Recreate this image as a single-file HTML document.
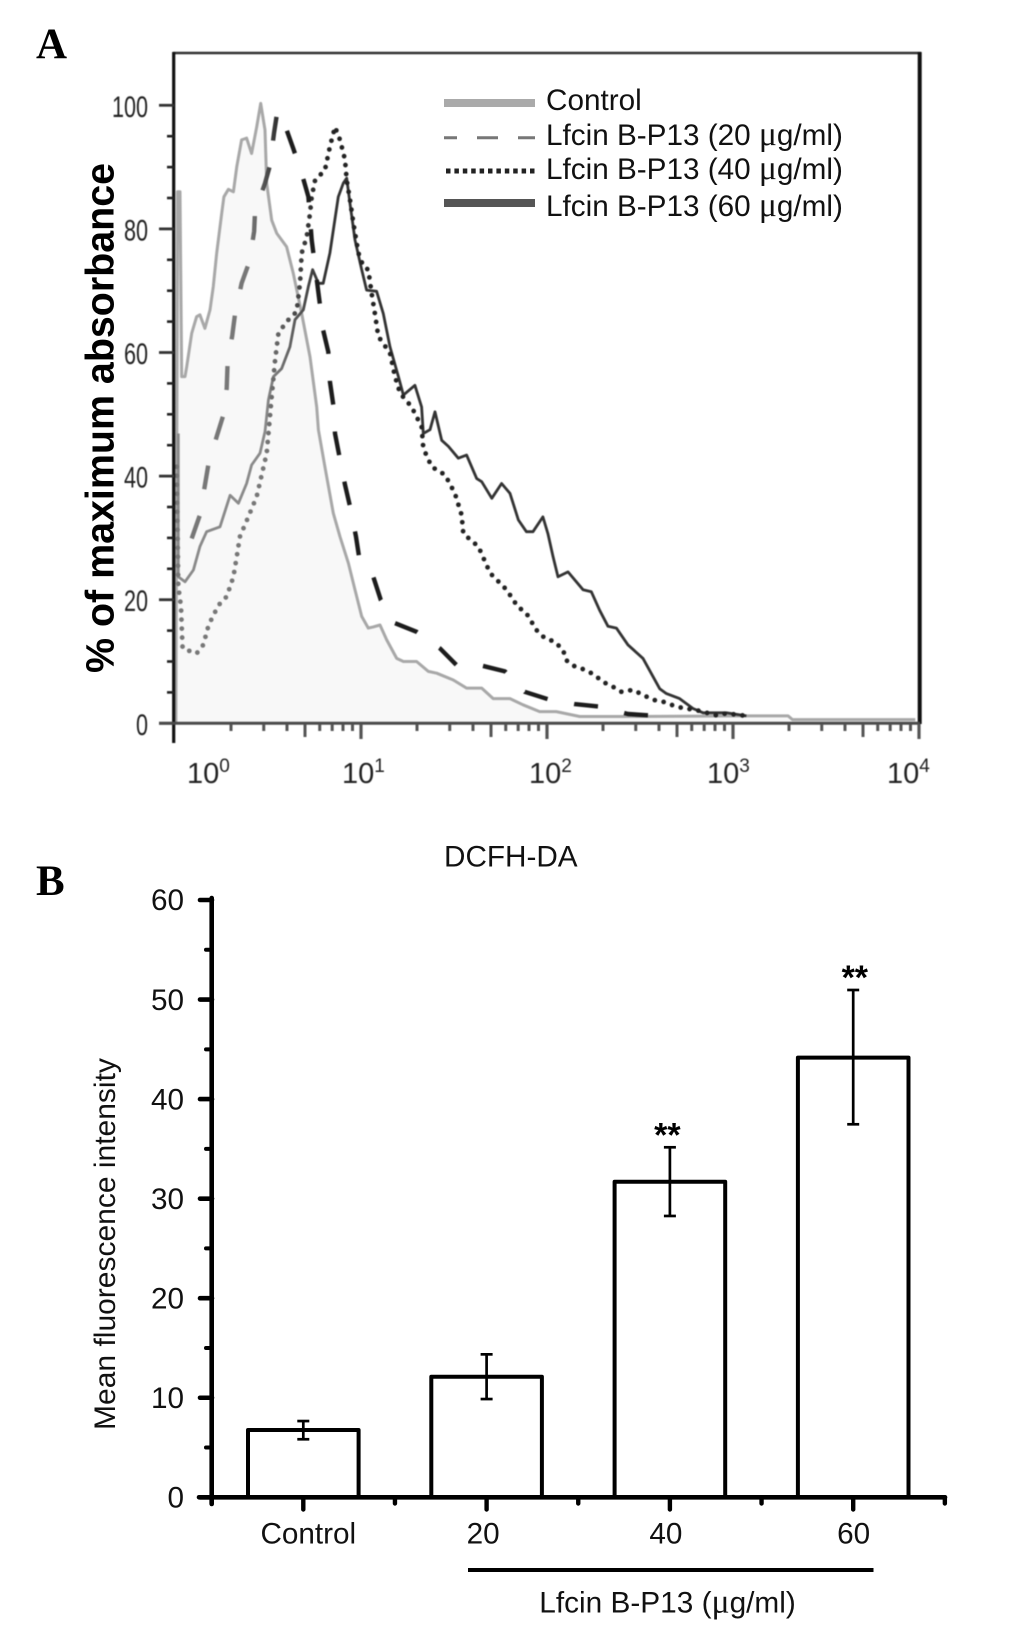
<!DOCTYPE html>
<html lang="en">
<head>
<meta charset="utf-8">
<title>Lfcin B-P13 flow cytometry figure</title>
<style>
html,body{margin:0;padding:0;background:#fff;}
svg{display:block;}
text{font-family:"Liberation Sans",sans-serif;fill:#111;}
.panel-letter{font-family:"Liberation Serif",serif;font-weight:bold;font-size:43px;fill:#000;}
.mu{font-family:"Liberation Serif",serif;font-size:1.13em;}
</style>
</head>
<body>
<svg id="fig" xmlns="http://www.w3.org/2000/svg" width="1033" height="1630" viewBox="0 0 1033 1630">
  <defs>
    <linearGradient id="fade-dash" gradientUnits="userSpaceOnUse" x1="250" y1="0" x2="285" y2="0">
      <stop offset="0" stop-color="#777"/>
      <stop offset="1" stop-color="#1c1c1c"/>
    </linearGradient>
    <linearGradient id="fade-dots" gradientUnits="userSpaceOnUse" x1="265" y1="0" x2="320" y2="0">
      <stop offset="0" stop-color="#777"/>
      <stop offset="1" stop-color="#222"/>
    </linearGradient>
    <linearGradient id="fade-solid" gradientUnits="userSpaceOnUse" x1="265" y1="0" x2="320" y2="0">
      <stop offset="0" stop-color="#8a8a8a"/>
      <stop offset="1" stop-color="#333"/>
    </linearGradient>
  </defs>
  <rect x="0" y="0" width="1033" height="1630" fill="#fff"/>

  <text class="panel-letter" x="36" y="58">A</text>
  <text class="panel-letter" x="36" y="895">B</text>

  <g id="histogram" style="filter:blur(0.45px)"></g>

  <text transform="translate(113.7,418) rotate(-90)" text-anchor="middle" font-size="39.4" font-weight="bold" style="fill:#000">% of maximum absorbance</text>

  <g>
    <line x1="444" y1="103" x2="535" y2="103" stroke="#aaa" stroke-width="8"/>
    <line x1="444" y1="137.7" x2="535" y2="137.7" stroke="#777" stroke-width="3" stroke-dasharray="21 20" stroke-dashoffset="8"/>
    <line x1="446" y1="171" x2="535" y2="171" stroke="#222" stroke-width="5" stroke-dasharray="4.5 3.9"/>
    <line x1="444" y1="203" x2="535" y2="203" stroke="#555" stroke-width="8"/>
    <text x="546" y="110" font-size="29.7">Control</text>
    <text x="546" y="145" font-size="29.7">Lfcin B-P13 (20 <tspan class="mu">μ</tspan>g/ml)</text>
    <text x="546" y="179" font-size="29.7">Lfcin B-P13 (40 <tspan class="mu">μ</tspan>g/ml)</text>
    <text x="546" y="216" font-size="29.7">Lfcin B-P13 (60 <tspan class="mu">μ</tspan>g/ml)</text>
  </g>

  <text x="444" y="866.7" font-size="29.7">DCFH-DA</text>
  <text transform="translate(115,1244) rotate(-90)" text-anchor="middle" font-size="30">Mean fluorescence intensity</text>

  <g id="bars"></g>

  <line x1="468" y1="1570" x2="873.5" y2="1570" stroke="#000" stroke-width="4"/>
  <text x="539.3" y="1612.3" font-size="29.8">Lfcin B-P13 (<tspan class="mu">μ</tspan>g/ml)</text>
</svg>

<script>
// ---------- Panel A data: x = log10(intensity), y = % of maximum ----------
const histYTicks = [0, 20, 40, 60, 80, 100];
const histXDecades = [0, 1, 2, 3, 4];

const controlLogX = [0.005,0.014,0.027,0.036,0.054,0.063,0.09,0.116,0.134,0.161,0.188,0.206,0.224,0.251,0.263,0.287,0.314,0.332,0.358,0.385,0.412,0.439,0.461,0.484,0.493,0.52,0.547,0.6,0.636,0.681,0.726,0.762,0.771,0.806,0.851,0.887,0.932,0.968,1.004,1.039,1.066,1.102,1.138,1.192,1.228,1.299,1.362,1.407,1.496,1.568,1.649,1.711,1.801,1.871,1.961,2.05,2.176,2.409,3.072,3.296,3.32,3.98];
const controlPct = [0,86,86,56.1,56.1,57.7,63.1,65.8,66.1,63.9,66.9,70.7,76.1,82.5,85.2,86.4,86,90.1,94.4,94.7,92.2,96.5,100.3,96,87.4,81.4,79.3,77.1,72.8,66.3,59.3,51.2,47.5,41.5,34,30.2,25.9,21.6,17.3,15.4,15.6,15.9,13.5,10.5,10,10,8.4,8.1,7,5.7,5.7,4,4,3,1.9,1.9,1.1,1.1,1.2,1.2,0.6,0.6];

const dose20LogX = [0.09,0.134,0.179,0.224,0.26,0.278,0.283,0.308,0.323,0.358,0.4,0.425,0.43,0.484,0.511,0.532,0.55,0.591,0.636,0.681,0.717,0.735,0.797,0.824,0.833,0.851,0.86,0.884,0.914,0.941,0.973,0.991,1.066,1.106,1.183,1.299,1.425,1.514,1.64,1.774,1.88,2.005,2.149,2.283,2.435,2.59];
const dose20Pct = [29.9,33.7,41.8,46.4,49.9,54.2,58.3,62.8,66.3,71.2,74.7,79.6,82.8,87.4,90.3,95.5,99,96.8,93,89,85.2,78.2,63.6,60.1,55.3,51.5,46.9,43.2,38.6,35.1,30.2,26.7,23.7,20,16.2,14.8,12.1,9.4,9.4,8.4,5.1,3.9,3.1,2.7,1.5,1.2];

const dose40LogX = [0.009,0.018,0.032,0.036,0.041,0.116,0.152,0.179,0.206,0.242,0.278,0.314,0.332,0.349,0.394,0.439,0.466,0.493,0.52,0.538,0.556,0.6,0.654,0.672,0.681,0.708,0.726,0.735,0.753,0.806,0.833,0.86,0.887,0.914,0.923,0.941,0.959,0.986,1.013,1.039,1.057,1.075,1.093,1.156,1.183,1.21,1.272,1.326,1.335,1.38,1.452,1.505,1.541,1.55,1.631,1.694,1.783,1.842,1.889,1.943,1.987,2.041,2.086,2.104,2.149,2.211,2.256,2.301,2.355,2.4,2.462,2.516,2.57,2.624,2.686,2.74,2.794,2.91,2.964,3.072];
const dose40Pct = [41.5,22.1,18.9,15.7,12.1,11.3,12.7,15.7,17.5,19.4,20.5,23.7,27,30.2,33.4,36.7,40.2,43.7,52.9,58.8,63.1,65,66.6,71.2,76.1,78.7,82.5,85.2,87.9,89.5,93.3,96.5,94.4,91.2,87.9,84.7,80.9,76.1,73.9,73.4,69.6,66.3,62.6,59.9,56.1,53.4,51.2,48,44.5,41.5,40.2,37.2,33.7,30.7,28.6,24.3,21.6,18.9,17.8,15.1,13.8,13.2,11.9,10.2,9.2,8.6,7.8,6.7,5.9,5.1,5.4,4.6,3.8,3.5,2.8,2.4,2.2,1.3,1.6,1.2];

const dose60LogX = [0.018,0.018,0.054,0.099,0.134,0.17,0.242,0.296,0.341,0.385,0.412,0.457,0.484,0.502,0.529,0.573,0.618,0.645,0.69,0.717,0.74,0.771,0.797,0.833,0.878,0.905,0.923,0.941,0.968,1.004,1.03,1.084,1.12,1.156,1.201,1.228,1.29,1.326,1.335,1.371,1.398,1.434,1.47,1.523,1.568,1.622,1.649,1.703,1.756,1.801,1.846,1.889,1.925,1.978,2.005,2.032,2.059,2.113,2.194,2.238,2.283,2.328,2.373,2.435,2.516,2.606,2.642,2.713,2.785,2.839,2.964,3.072];
const dose60Pct = [46.9,23.7,22.9,24.8,28.6,31,31.8,36.9,35.6,38.8,41.8,43.7,47.2,52.3,56.1,57.4,60.9,65.3,66.9,70.7,73.4,71.2,71.2,76.1,85.2,87.4,88.2,84.1,78.2,73.4,70.1,69.9,66.3,60.9,56.1,53.1,54.7,51.2,46.9,47.5,50.4,45.8,44.8,42.9,43.4,39.6,39.1,36.4,38.8,37.2,32.9,31,31,33.4,30.7,27,23.7,24.5,21.6,21.3,18.3,15.7,15.4,12.7,10.5,5.6,4.8,4,2.4,1.7,1.7,1.2];

// ---------- Panel B data ----------
const barCategories = ["Control", "20", "40", "60"];
const barValues = [6.76, 12.11, 31.7, 44.16];
const errorHigh = [7.66, 14.36, 35.16, 50.96];
const errorLow = [5.83, 9.87, 28.26, 37.47];
const significance = ["", "", "**", "**"];
const barYTicks = [0, 10, 20, 30, 40, 50, 60];

// ---------- Axis functions ----------
function histX(logValue) { return 175 + 186 * logValue; }
function histY(pct) { return 723.3 - 6.18 * pct; }
function barX(index) { return 303.3 + 183.3 * index; }
function barY(value) { return 1497.3 - 9.955 * value; }

const SVGNS = "http://www.w3.org/2000/svg";
const histGroup = document.getElementById("histogram");
const barGroup = document.getElementById("bars");

function addLine(parent, x1, y1, x2, y2, color, width, cap) {
  const el = document.createElementNS(SVGNS, "line");
  el.setAttribute("x1", x1);
  el.setAttribute("y1", y1);
  el.setAttribute("x2", x2);
  el.setAttribute("y2", y2);
  el.setAttribute("stroke", color);
  el.setAttribute("stroke-width", width);
  if (cap) { el.setAttribute("stroke-linecap", cap); }
  parent.appendChild(el);
  return el;
}

function addText(parent, x, y, content, size, anchor) {
  const el = document.createElementNS(SVGNS, "text");
  el.setAttribute("x", x);
  el.setAttribute("y", y);
  el.setAttribute("font-size", size);
  el.setAttribute("text-anchor", anchor);
  el.textContent = content;
  parent.appendChild(el);
  return el;
}

function curvePoints(xs, ys) {
  return xs.map(function (v, i) { return histX(v).toFixed(1) + "," + histY(ys[i]).toFixed(1); }).join(" ");
}

// ---------- Panel A drawing ----------
const controlFill = document.createElementNS(SVGNS, "polygon");
controlFill.setAttribute("points", curvePoints(controlLogX, controlPct) + " " + histX(controlLogX[controlLogX.length - 1]).toFixed(1) + "," + histY(0).toFixed(1));
controlFill.setAttribute("fill", "#f8f8f8");


histGroup.appendChild(controlFill);

function addCurve(xs, ys, color, width, dash, cap) {
  const el = document.createElementNS(SVGNS, "polyline");
  el.setAttribute("points", curvePoints(xs, ys));
  el.setAttribute("fill", "none");
  el.setAttribute("stroke", color);
  el.setAttribute("stroke-width", width);
  el.setAttribute("stroke-linejoin", "round");
  if (dash) { el.setAttribute("stroke-dasharray", dash); }
  if (cap) { el.setAttribute("stroke-linecap", cap); }
  histGroup.appendChild(el);
  return el;
}

const controlCurve = addCurve(controlLogX, controlPct, "#a8a8a8", 3);



const curve60 = addCurve(dose60LogX, dose60Pct, "url(#fade-solid)", 2.8);



const curve40 = addCurve(dose40LogX, dose40Pct, "url(#fade-dots)", 4.8, "0 9", "round");



const curve20 = addCurve(dose20LogX, dose20Pct, "url(#fade-dash)", 4.4, "24 27");



// frame
const frameTop = addLine(histGroup, 173, 53, 921, 53, "#333", 2.6);


const frameRight = addLine(histGroup, 919.7, 52, 919.7, 724, "#111", 4);



// y axis with ticks
const histYAxis = addLine(histGroup, 173.7, 52, 173.7, 743, "#111", 3.2);


for (let p = 5; p < 100; p += 5) {
  if (p % 20 !== 0) {
    const minor = addLine(histGroup, 167, histY(p), 174, histY(p), "#222", 2.6);
    
    
  }
}
histYTicks.forEach(function (t) {
  const tick = addLine(histGroup, 159, histY(t), 174, histY(t), "#333", 2.8);
  
  
  const label = document.createElementNS(SVGNS, "text");
  label.setAttribute("transform", "translate(148," + (histY(t) + 11.5) + ") scale(0.72,1)");
  label.setAttribute("text-anchor", "end");
  label.setAttribute("font-size", "30");
  label.setAttribute("style", "fill:#222");
  label.textContent = String(t);
  
  
  histGroup.appendChild(label);
});

// x axis with log ticks
const histXAxis = addLine(histGroup, 159, histY(0), 920, histY(0), "#4a4a4a", 3);


histXDecades.forEach(function (d) {
  if (d < 4) {
    for (let m = 2; m <= 9; m++) {
      const xPos = histX(d + Math.log10(m));
      const mt = addLine(histGroup, xPos, 724, xPos, m === 5 ? 737 : 731, "#555", 3);
      
      
    }
  }
  if (d > 0) {
    const major = addLine(histGroup, histX(d), 724, histX(d), 739, "#555", 3.2);
    
    
  }
});

// decade labels sit slightly off their ticks in the figure
const decadeLabelShift = [12, -19, -18, -26, -32];
histXDecades.forEach(function (d, i) {
  const label = document.createElementNS(SVGNS, "text");
  label.setAttribute("x", histX(d) + decadeLabelShift[i]);
  label.setAttribute("y", 783);
  label.setAttribute("font-size", "29");
  label.setAttribute("style", "fill:#222");
  label.appendChild(document.createTextNode("10"));
  const sup = document.createElementNS(SVGNS, "tspan");
  sup.setAttribute("font-size", "19");
  sup.setAttribute("dy", "-11");
  sup.textContent = String(d);
  label.appendChild(sup);
  
  
  histGroup.appendChild(label);
});

// ---------- Panel B drawing ----------
const starShift = [0, 0, -2.5, 1.6];
barCategories.forEach(function (name, i) {
  const bar = document.createElementNS(SVGNS, "rect");
  const left = barX(i) - 55.3;
  bar.setAttribute("x", left);
  bar.setAttribute("y", barY(barValues[i]));
  bar.setAttribute("width", 110.6);
  bar.setAttribute("height", barY(0) - barY(barValues[i]));
  bar.setAttribute("fill", "#fff");
  bar.setAttribute("stroke", "#000");
  bar.setAttribute("stroke-width", 4);
  bar.setAttribute("stroke-linejoin", "round");
  
  
  barGroup.appendChild(bar);

  const stem = addLine(barGroup, barX(i), barY(errorHigh[i]), barX(i), barY(errorLow[i]), "#000", 2.7);
  
  
  const capTop = addLine(barGroup, barX(i) - 6, barY(errorHigh[i]), barX(i) + 6, barY(errorHigh[i]), "#000", 2.7);
  
  
  const capBottom = addLine(barGroup, barX(i) - 6, barY(errorLow[i]), barX(i) + 6, barY(errorLow[i]), "#000", 2.7);
  
  

  if (significance[i]) {
    const star = addText(barGroup, barX(i) + starShift[i], barY(errorHigh[i]) - 1, significance[i], 34, "middle");
    star.setAttribute("font-weight", "bold");
    star.setAttribute("style", "fill:#000");
    
    
  }
});

const barYAxis = addLine(barGroup, 211.7, barY(60) - 2, 211.7, 1504, "#000", 4.6, "round");


const barXAxis = addLine(barGroup, 199, barY(0), 945, barY(0), "#000", 4.6, "round");



barYTicks.forEach(function (t) {
  const tick = addLine(barGroup, 200, barY(t), 212, barY(t), "#000", 4.6, "round");
  
  
  const label = addText(barGroup, 184, barY(t) + 10.2, String(t), 29.7, "end");
  
  
  if (t < 60) {
    const minor = addLine(barGroup, 206, barY(t + 5), 212, barY(t + 5), "#000", 4, "round");
    
    
  }
});

const categoryLabelShift = [5, -3.5, -4, 0.5];
barCategories.forEach(function (name, i) {
  const tick = addLine(barGroup, barX(i), barY(0), barX(i), 1509.5, "#000", 4.4, "round");
  
  
  const label = addText(barGroup, barX(i) + categoryLabelShift[i], 1543.3, name, 29.7, "middle");
  
  
});
for (let i = -0.5; i <= 3.5; i += 1) {
  const minor = addLine(barGroup, barX(i), barY(0), barX(i), 1503.5, "#000", 4.4, "round");
  
  
}
</script>
</body>
</html>
